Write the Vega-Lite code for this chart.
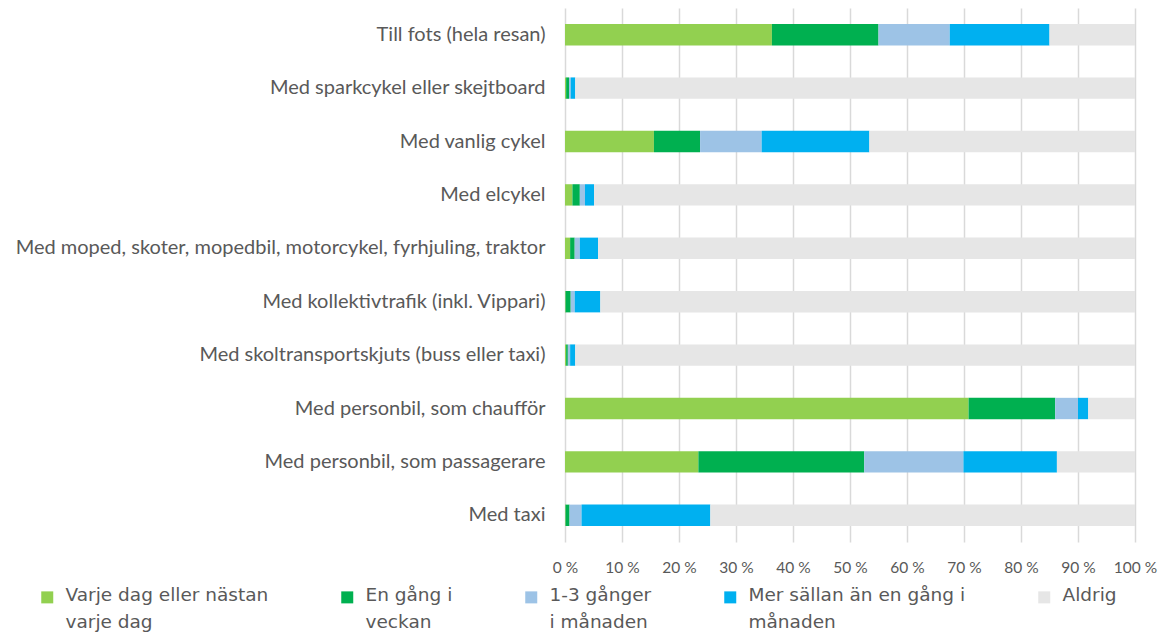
{
  "$schema": "https://vega.github.io/schema/vega-lite/v6.json",
  "autosize": "none",
  "width": 570,
  "height": 534,
  "padding": {"left": 565, "top": 8, "right": 25, "bottom": 92},
  "background": "white",
  "config": {
    "font": "Lato",
    "view": {"stroke": null}
  },
  "data": {
    "values": [
      {"cat": "Till fots (hela resan)", "resp": "Varje dag eller nästan varje dag", "o": 1, "val": 36.3},
      {"cat": "Till fots (hela resan)", "resp": "En gång i veckan", "o": 2, "val": 18.7},
      {"cat": "Till fots (hela resan)", "resp": "1-3 gånger i månaden", "o": 3, "val": 12.5},
      {"cat": "Till fots (hela resan)", "resp": "Mer sällan än en gång i månaden", "o": 4, "val": 17.5},
      {"cat": "Till fots (hela resan)", "resp": "Aldrig", "o": 5, "val": 15.0},

      {"cat": "Med sparkcykel eller skejtboard", "resp": "Varje dag eller nästan varje dag", "o": 1, "val": 0.2},
      {"cat": "Med sparkcykel eller skejtboard", "resp": "En gång i veckan", "o": 2, "val": 0.5},
      {"cat": "Med sparkcykel eller skejtboard", "resp": "1-3 gånger i månaden", "o": 3, "val": 0.3},
      {"cat": "Med sparkcykel eller skejtboard", "resp": "Mer sällan än en gång i månaden", "o": 4, "val": 0.8},
      {"cat": "Med sparkcykel eller skejtboard", "resp": "Aldrig", "o": 5, "val": 98.2},

      {"cat": "Med vanlig cykel", "resp": "Varje dag eller nästan varje dag", "o": 1, "val": 15.6},
      {"cat": "Med vanlig cykel", "resp": "En gång i veckan", "o": 2, "val": 8.1},
      {"cat": "Med vanlig cykel", "resp": "1-3 gånger i månaden", "o": 3, "val": 10.8},
      {"cat": "Med vanlig cykel", "resp": "Mer sällan än en gång i månaden", "o": 4, "val": 18.9},
      {"cat": "Med vanlig cykel", "resp": "Aldrig", "o": 5, "val": 46.6},

      {"cat": "Med elcykel", "resp": "Varje dag eller nästan varje dag", "o": 1, "val": 1.3},
      {"cat": "Med elcykel", "resp": "En gång i veckan", "o": 2, "val": 1.3},
      {"cat": "Med elcykel", "resp": "1-3 gånger i månaden", "o": 3, "val": 0.9},
      {"cat": "Med elcykel", "resp": "Mer sällan än en gång i månaden", "o": 4, "val": 1.6},
      {"cat": "Med elcykel", "resp": "Aldrig", "o": 5, "val": 94.9},

      {"cat": "Med moped, skoter, mopedbil, motorcykel, fyrhjuling, traktor", "resp": "Varje dag eller nästan varje dag", "o": 1, "val": 0.9},
      {"cat": "Med moped, skoter, mopedbil, motorcykel, fyrhjuling, traktor", "resp": "En gång i veckan", "o": 2, "val": 0.8},
      {"cat": "Med moped, skoter, mopedbil, motorcykel, fyrhjuling, traktor", "resp": "1-3 gånger i månaden", "o": 3, "val": 0.9},
      {"cat": "Med moped, skoter, mopedbil, motorcykel, fyrhjuling, traktor", "resp": "Mer sällan än en gång i månaden", "o": 4, "val": 3.2},
      {"cat": "Med moped, skoter, mopedbil, motorcykel, fyrhjuling, traktor", "resp": "Aldrig", "o": 5, "val": 94.2},

      {"cat": "Med kollektivtrafik (inkl. Vippari)", "resp": "Varje dag eller nästan varje dag", "o": 1, "val": 0.1},
      {"cat": "Med kollektivtrafik (inkl. Vippari)", "resp": "En gång i veckan", "o": 2, "val": 0.9},
      {"cat": "Med kollektivtrafik (inkl. Vippari)", "resp": "1-3 gånger i månaden", "o": 3, "val": 0.7},
      {"cat": "Med kollektivtrafik (inkl. Vippari)", "resp": "Mer sällan än en gång i månaden", "o": 4, "val": 4.5},
      {"cat": "Med kollektivtrafik (inkl. Vippari)", "resp": "Aldrig", "o": 5, "val": 93.8},

      {"cat": "Med skoltransportskjuts (buss eller taxi)", "resp": "Varje dag eller nästan varje dag", "o": 1, "val": 0.2},
      {"cat": "Med skoltransportskjuts (buss eller taxi)", "resp": "En gång i veckan", "o": 2, "val": 0.3},
      {"cat": "Med skoltransportskjuts (buss eller taxi)", "resp": "1-3 gånger i månaden", "o": 3, "val": 0.4},
      {"cat": "Med skoltransportskjuts (buss eller taxi)", "resp": "Mer sällan än en gång i månaden", "o": 4, "val": 0.9},
      {"cat": "Med skoltransportskjuts (buss eller taxi)", "resp": "Aldrig", "o": 5, "val": 98.2},

      {"cat": "Med personbil, som chaufför", "resp": "Varje dag eller nästan varje dag", "o": 1, "val": 70.8},
      {"cat": "Med personbil, som chaufför", "resp": "En gång i veckan", "o": 2, "val": 15.2},
      {"cat": "Med personbil, som chaufför", "resp": "1-3 gånger i månaden", "o": 3, "val": 4.0},
      {"cat": "Med personbil, som chaufför", "resp": "Mer sällan än en gång i månaden", "o": 4, "val": 1.8},
      {"cat": "Med personbil, som chaufför", "resp": "Aldrig", "o": 5, "val": 8.2},

      {"cat": "Med personbil, som passagerare", "resp": "Varje dag eller nästan varje dag", "o": 1, "val": 23.4},
      {"cat": "Med personbil, som passagerare", "resp": "En gång i veckan", "o": 2, "val": 29.1},
      {"cat": "Med personbil, som passagerare", "resp": "1-3 gånger i månaden", "o": 3, "val": 17.4},
      {"cat": "Med personbil, som passagerare", "resp": "Mer sällan än en gång i månaden", "o": 4, "val": 16.4},
      {"cat": "Med personbil, som passagerare", "resp": "Aldrig", "o": 5, "val": 13.7},

      {"cat": "Med taxi", "resp": "Varje dag eller nästan varje dag", "o": 1, "val": 0.1},
      {"cat": "Med taxi", "resp": "En gång i veckan", "o": 2, "val": 0.7},
      {"cat": "Med taxi", "resp": "1-3 gånger i månaden", "o": 3, "val": 2.1},
      {"cat": "Med taxi", "resp": "Mer sällan än en gång i månaden", "o": 4, "val": 22.6},
      {"cat": "Med taxi", "resp": "Aldrig", "o": 5, "val": 74.5}
    ]
  },
  "mark": {"type": "bar"},
  "encoding": {
    "y": {
      "field": "cat",
      "type": "nominal",
      "sort": null,
      "scale": {"paddingInner": 0.6, "paddingOuter": 0.3},
      "axis": {
        "title": null,
        "ticks": false,
        "domain": false,
        "labelFont": "Lato",
        "labelFontSize": 20,
        "labelColor": "#595959",
        "labelPadding": 20,
        "labelLimit": 700
      }
    },
    "x": {
      "field": "val",
      "type": "quantitative",
      "stack": "zero",
      "scale": {"domain": [0, 100], "nice": false},
      "axis": {
        "title": null,
        "values": [0, 10, 20, 30, 40, 50, 60, 70, 80, 90, 100],
        "labelExpr": "datum.value + ' %'",
        "labelOverlap": false,
        "labelFlush": false,
        "ticks": false,
        "domain": false,
        "grid": true,
        "gridColor": "#d9d9d9",
        "gridWidth": 1.5,
        "labelFont": "Lato",
        "labelFontSize": 15.5,
        "labelColor": "#595959",
        "labelPadding": 18
      }
    },
    "order": {"field": "o", "type": "quantitative"},
    "color": {
      "field": "resp",
      "type": "nominal",
      "scale": {
        "domain": ["Varje dag eller nästan varje dag", "En gång i veckan", "1-3 gånger i månaden", "Mer sällan än en gång i månaden", "Aldrig"],
        "range": ["#92D050", "#00B050", "#9DC3E6", "#00B0F0", "#E6E6E6"]
      },
      "legend": {
        "title": null,
        "orient": "none",
        "direction": "horizontal",
        "legendX": -527,
        "legendY": 580,
        "symbolType": "square",
        "symbolSize": 144,
        "symbolStrokeWidth": 0,
        "labelFont": "DejaVu Sans",
        "labelFontSize": 18.5,
        "labelColor": "#595959",
        "labelOffset": 9,
        "labelLimit": 400,
        "labelBaseline": "alphabetic",
        "columnPadding": 69,
        "encode": {
          "labels": {"update": {"lineHeight": {"value": 27}, "dy": {"value": 4}}}
        },
        "labelExpr": "datum.label == 'Varje dag eller nästan varje dag' ? ['Varje dag eller nästan', 'varje dag'] : datum.label == 'En gång i veckan' ? ['En gång i', 'veckan'] : datum.label == '1-3 gånger i månaden' ? ['1-3 gånger', 'i månaden'] : datum.label == 'Mer sällan än en gång i månaden' ? ['Mer sällan än en gång i', 'månaden'] : [datum.label, ' ']"
      }
    }
  }
}
